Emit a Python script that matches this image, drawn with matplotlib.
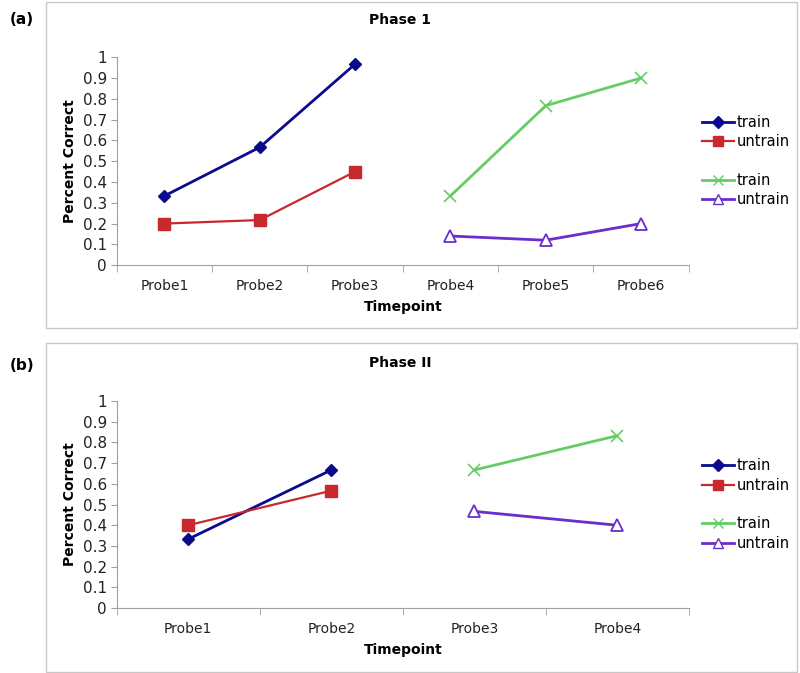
import matplotlib.pyplot as plt
import numpy as np
from matplotlib.lines import Line2D
from matplotlib.patches import Rectangle

# Phase 1
p1_cats = ['Probe1', 'Probe2', 'Probe3', 'Probe4', 'Probe5', 'Probe6']
p1_train_a = [0.333, 0.567, 0.967]
p1_untrain_a = [0.2, 0.217, 0.45]
p1_train_b = [0.333, 0.767, 0.9]
p1_untrain_b = [0.14, 0.12, 0.2]

# Phase II
p2_cats = ['Probe1', 'Probe2', 'Probe3', 'Probe4']
p2_train_a = [0.333, 0.667]
p2_untrain_a = [0.4, 0.567]
p2_train_b = [0.667, 0.833]
p2_untrain_b = [0.467, 0.4]

yticks = [0, 0.1, 0.2, 0.3, 0.4, 0.5, 0.6, 0.7, 0.8, 0.9, 1]
ytick_labels = ['0', '0.1', '0.2', '0.3', '0.4', '0.5', '0.6', '0.7', '0.8', '0.9', '1']

c_blue = '#0a0a8c'
c_red = '#c8282e'
c_green = '#66cc66'
c_purple = '#6a2ecc'
axis_grey = '#a0a0a0'

fig = plt.figure(figsize=(8, 6.73), dpi=100)

# panel borders
for y0, h in [(0.5126, 0.484), (0.0015, 0.489)]:
    fig.patches.append(Rectangle((0.0575, y0), 0.939, h, transform=fig.transFigure,
                                 fill=False, edgecolor='#c8c8c8', linewidth=1))


def draw_panel(ax, cats, first, second):
    n = len(cats)
    half = n // 2
    x = np.arange(n)
    xa = x[:half]
    xb = x[half:]
    ax.plot(xa, first[0], '-', color=c_blue, lw=2, marker='D', ms=6, mfc=c_blue, mec=c_blue)
    ax.plot(xa, first[1], '-', color=c_red, lw=1.6, marker='s', ms=8, mfc=c_red, mec=c_red)
    ax.plot(xb, second[0], '-', color=c_green, lw=2, marker='x', ms=8, mew=1.2)
    ax.plot(xb, second[1], '-', color=c_purple, lw=2, marker='^', ms=8, mfc='white',
            mec=c_purple, mew=1.3)

    ax.set_xlim(-0.5, n - 0.5)
    ax.set_ylim(0, 1)
    ax.set_xticks(x)
    ax.set_xticklabels(cats, fontsize=10, color='#222222')
    ax.set_xticks(np.arange(n + 1) - 0.5, minor=True)
    ax.tick_params(axis='x', which='major', length=0, pad=10)
    ax.tick_params(axis='x', which='minor', length=5, color=axis_grey, direction='out')
    ax.set_yticks(yticks)
    ax.set_yticklabels(ytick_labels, fontsize=11, color='#222222')
    ax.tick_params(axis='y', length=4, color=axis_grey, direction='out', pad=3)

    for s in ['top', 'right']:
        ax.spines[s].set_visible(False)
    for s in ['left', 'bottom']:
        ax.spines[s].set_color(axis_grey)

    ax.set_ylabel('Percent Correct', fontsize=10, fontweight='bold', labelpad=4)
    ax.set_xlabel('Timepoint', fontsize=10, fontweight='bold', labelpad=5)

    handles = [
        Line2D([], [], color=c_blue, lw=2, marker='D', ms=6),
        Line2D([], [], color=c_red, lw=1.6, marker='s', ms=7),
        Line2D([], [], color='none'),
        Line2D([], [], color=c_green, lw=2, marker='x', ms=7),
        Line2D([], [], color=c_purple, lw=2, marker='^', ms=7, mfc='white'),
    ]
    labels = ['train', 'untrain', '', 'train', 'untrain']
    ax.legend(handles, labels, loc='center left', bbox_to_anchor=(1.013, 0.5),
              frameon=False, fontsize=10.5, handlelength=2.2, handletextpad=0.2,
              labelspacing=0.3, borderaxespad=0)


ax1 = fig.add_axes([0.146, 0.606, 0.715, 0.309])
draw_panel(ax1, p1_cats, (p1_train_a, p1_untrain_a), (p1_train_b, p1_untrain_b))

ax2 = fig.add_axes([0.146, 0.0966, 0.715, 0.3074])
draw_panel(ax2, p2_cats, (p2_train_a, p2_untrain_a), (p2_train_b, p2_untrain_b))

fig.text(0.5, 1 - 20 / 673, 'Phase 1', fontsize=10, fontweight='bold', ha='center', va='center')
fig.text(0.5, 1 - 363 / 673, 'Phase II', fontsize=10, fontweight='bold', ha='center', va='center')

fig.text(0.012, 1 - 20 / 673, '(a)', fontsize=11, fontweight='bold', va='center')
fig.text(0.012, 1 - 365 / 673, '(b)', fontsize=11, fontweight='bold', va='center')

fig.savefig('out.png', dpi=100)
